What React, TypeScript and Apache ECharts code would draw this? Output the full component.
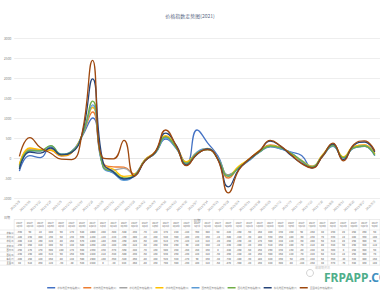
import React, { useEffect, useRef } from "react";
import * as echarts from "echarts";

const TITLE = "价格指数走势图(2021)";
const X_NAME = "日期";
const TABLE_CORNER = "日期";

const categories = [
  "2021/1/8", "2021/1/15", "2021/1/22", "2021/1/29", "2021/2/5", "2021/2/12", "2021/2/19",
  "2021/2/26", "2021/3/5", "2021/3/12", "2021/3/19", "2021/3/26", "2021/4/2", "2021/4/9",
  "2021/4/16", "2021/4/23", "2021/4/30", "2021/5/7", "2021/5/14", "2021/5/21", "2021/5/28",
  "2021/6/4", "2021/6/11", "2021/6/18", "2021/6/25", "2021/7/2", "2021/7/9", "2021/7/16",
  "2021/7/23", "2021/7/30", "2021/8/6", "2021/8/13", "2021/8/20", "2021/8/27", "2021/9/3",
];

const seriesNames = [
  "华东地区价格指数(1)", "华南地区价格指数(2)", "华北地区价格指数(3)", "华中地区价格指数(4)",
  "西南地区价格指数(5)", "西北地区价格指数(6)", "东北地区价格指数(7)", "全国综合价格指数(8)",
];

const rowLabels = ["华东(1)", "华南(2)", "华北(3)", "华中(4)", "西南(5)", "西北(6)", "东北(7)", "全国(8)"];

const colors = ["#4472C4", "#ED7D31", "#A5A5A5", "#FFC000", "#5B9BD5", "#70AD47", "#264478", "#9E480E"];

const s1 = [-330, 60, 10, 280, 90, 170, 540, 1000, -200, -380, -540, -430, -70, 120, 470, 240, -140, 700, 380, 50, -420, -250, -60, 150, 280, 230, 150, 60, -250, 40, 290, 20, 250, 290, 60];
const s2 = [-180, 230, 200, 190, 50, 130, 560, 1150, -120, -220, -230, -400, -40, 150, 540, 300, -100, 130, 230, -10, -500, -220, -30, 180, 330, 260, 100, -90, -230, 70, 330, 10, 280, 330, 100];
const s3 = [-200, 210, 190, 220, 80, 150, 570, 1280, -180, -300, -260, -420, -60, 140, 510, 270, -120, 110, 210, -20, -450, -230, -40, 170, 300, 240, 120, -60, -200, 60, 310, 20, 260, 300, 90];
const s4 = [-160, 250, 210, 200, 60, 140, 580, 1260, -150, -280, -460, -410, -50, 160, 560, 290, -90, 140, 240, -10, -430, -200, -20, 190, 310, 260, 100, -70, -210, 80, 340, 30, 290, 320, 110];
const s5 = [-260, 170, 170, 300, 100, 170, 550, 1330, -230, -370, -560, -440, -70, 130, 500, 250, -150, 150, 230, 0, -440, -250, -50, 160, 290, 230, 130, -80, -240, 40, 300, 0, 250, 300, 60];
const s6 = [-230, 190, 180, 310, 90, 160, 560, 1420, -210, -340, -500, -430, -60, 130, 530, 260, -130, 120, 210, -30, -460, -240, -40, 160, 300, 250, 120, -70, -220, 50, 310, 10, 260, 300, 70];
const s7 = [-280, 150, 120, 250, 80, 140, 600, 1980, -100, -350, -520, -460, -80, 150, 620, 320, -170, 90, 230, -40, -720, -280, -30, 180, 420, 290, 60, -130, -240, 50, 350, -40, 320, 400, 150];
const s8 = [40, 510, 260, 120, -30, -40, 620, 2440, 0, -20, 440, -450, -80, 160, 700, 300, -190, 100, 210, -50, -870, -300, -20, 190, 440, 300, 80, -140, -250, 40, 370, -70, 340, 430, 180];

const seriesData = [s1, s2, s3, s4, s5, s6, s7, s8];

const Y_MIN = -1000;
const Y_MAX = 3000;
const Y_STEP = 500;

const FONT = "'Noto Sans CJK SC', 'Noto Sans', sans-serif";
const GRID_COLOR = "#e3e3e3";
const TEXT_COLOR = "#7f7f7f";

export default function App() {
  const ref = useRef<HTMLDivElement>(null);

  useEffect(() => {
    const chart = echarts.init(ref.current!, null, { renderer: "svg" });
    chart.setOption({
      animation: false,
      backgroundColor: "#ffffff",
      textStyle: { fontFamily: FONT },
      title: {
        text: TITLE,
        left: "center",
        top: 8,
        textStyle: { fontSize: 5, fontWeight: "normal", color: "#5a6a85", fontFamily: FONT },
      },
      legend: {
        bottom: 0,
        left: "center",
        itemWidth: 8,
        itemHeight: 1.5,
        itemGap: 3,
        icon: "rect",
        padding: [0, 0, 1, 0],
        textStyle: { fontSize: 2.5, color: "#7f7f7f", padding: [0, 0, 0, -3] },
        data: seriesNames,
      },
      grid: { left: 11, right: 0, top: 38, bottom: 92, containLabel: false },
      xAxis: {
        type: "category",
        data: categories,
        boundaryGap: true,
        name: X_NAME,
        nameLocation: "middle",
        nameGap: 8,
        nameTextStyle: { fontSize: 3.5, color: TEXT_COLOR },
        axisLine: { show: true, lineStyle: { color: GRID_COLOR, width: 0.6 } },
        axisTick: { show: false },
        axisLabel: { rotate: 45, fontSize: 3, color: TEXT_COLOR, interval: 0, margin: 3 },
      },
      yAxis: {
        type: "value",
        min: Y_MIN,
        max: Y_MAX,
        interval: Y_STEP,
        axisLine: { show: false },
        axisTick: { show: false },
        axisLabel: { fontSize: 3.2, color: TEXT_COLOR, margin: 3, formatter: (v: number) => String(v) },
        splitLine: { lineStyle: { color: GRID_COLOR, width: 0.6 } },
      },
      series: seriesData.map((d, k) => ({
        name: seriesNames[k],
        type: "line",
        data: d,
        smooth: 0.5,
        symbol: "none",
        itemStyle: { color: colors[k] },
        lineStyle: { color: colors[k], width: 1.3 },
        z: 2 + k,
      })),
    });

    // data table under the plot, aligned with the category columns
    const xs = categories.map((_, i) => chart.convertToPixel({ xAxisIndex: 0 }, i) as number);
    const cw = xs.length > 1 ? xs[1] - xs[0] : 10;
    const left = xs[0] - cw / 2;
    const right = xs[xs.length - 1] + cw / 2;
    const top = 219.5;
    const headH = 10.5;
    const rowH = 4.4;
    const bottom = top + headH + rowH * seriesNames.length;
    const line = (x1: number, y1: number, x2: number, y2: number) => ({
      type: "line",
      shape: { x1, y1, x2, y2 },
      style: { stroke: "#d9d9d9", lineWidth: 0.5 },
      silent: true,
    });
    const g: any[] = [];
    g.push(line(left, top, right, top));
    g.push(line(0, top + headH, right, top + headH));
    for (let r = 1; r <= seriesNames.length; r++) {
      g.push(line(0, top + headH + rowH * r, right, top + headH + rowH * r));
    }
    for (let c = 0; c <= categories.length; c++) {
      const x = left + cw * c;
      g.push(line(x, top, x, bottom));
    }
    g.push({
      type: "text",
      x: 7,
      y: top - 2,
      style: { text: TABLE_CORNER, fontSize: 3, fill: TEXT_COLOR, align: "center", verticalAlign: "middle", fontFamily: FONT },
      silent: true,
    });
    categories.forEach((c, i) => {
      const parts = c.split("/");
      g.push({
        type: "text",
        x: xs[i],
        y: top + headH / 2,
        style: {
          text: parts[0] + "年\n" + parts[1] + "月" + parts[2] + "日",
          fontSize: 1.9,
          lineHeight: 3.4,
          fill: "#595959",
          align: "center",
          verticalAlign: "middle",
          fontFamily: FONT,
        },
        silent: true,
      });
    });
    rowLabels.forEach((n, r) => {
      const yc = top + headH + rowH * r + rowH / 2;
      g.push({
        type: "text",
        x: left - 0.5,
        y: yc,
        style: { text: n, fontSize: 2.2, fill: "#595959", align: "right", verticalAlign: "middle", fontFamily: FONT },
        silent: true,
      });
      seriesData[r].forEach((v, i) => {
        g.push({
          type: "text",
          x: xs[i],
          y: yc,
          style: { text: String(v), fontSize: 2.6, fill: "#595959", align: "center", verticalAlign: "middle", fontFamily: FONT },
          silent: true,
        });
      });
    });
    // watermark
    g.push({
      type: "circle",
      shape: { cx: 310, cy: 273, r: 3.5 },
      style: { fill: "none", stroke: "#c8c8c8", lineWidth: 0.8 },
      silent: true,
    });
    g.push({
      type: "text",
      x: 315,
      y: 266,
      style: { text: "玻璃钢资讯", fontSize: 3, fill: "#c8c8c8", fontFamily: FONT },
      silent: true,
    });
    g.push({
      type: "text",
      x: 324,
      y: 271,
      style: {
        text: "{a|FRPAPP}{b|.COM}",
        fontFamily: "'Noto Sans', sans-serif",
        rich: {
          a: { fontSize: 12, fontWeight: "bold", fill: "#4fae8a", fontFamily: "'Noto Sans', sans-serif" },
          b: { fontSize: 12, fontWeight: "bold", fill: "#3f8fc0", fontFamily: "'Noto Sans', sans-serif" },
        },
      },
      silent: true,
      z: 100,
    });
    chart.setOption({ graphic: g });

    return () => chart.dispose();
  }, []);

  return <div ref={ref} style={{ position: "fixed", left: 0, top: 0, width: 380, height: 290 }} />;
}
